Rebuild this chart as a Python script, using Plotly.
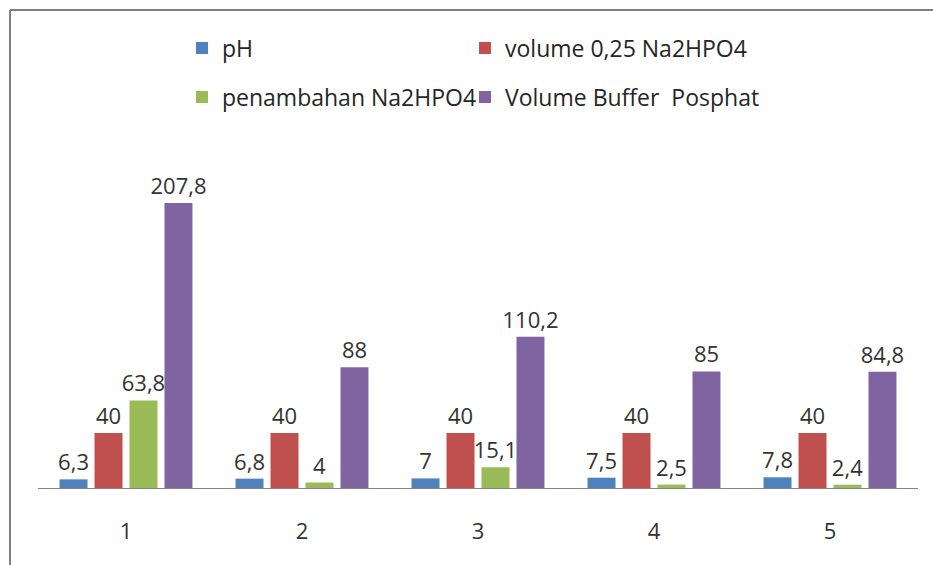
import plotly.graph_objects as go

categories = ["1", "2", "3", "4", "5"]
ph = [6.3, 6.8, 7, 7.5, 7.8]
volume_na2hpo4 = [40, 40, 40, 40, 40]
penambahan = [63.8, 4, 15.1, 2.5, 2.4]
volume_buffer = [207.8, 88, 110.2, 85, 84.8]

series = [
    ("pH", ph, "#4F81BD", "legend"),
    ("volume 0,25 Na2HPO4", volume_na2hpo4, "#C0504D", "legend2"),
    ("penambahan Na2HPO4", penambahan, "#9BBB59", "legend3"),
    ("Volume Buffer  Posphat", volume_buffer, "#8064A2", "legend4"),
]

def fmt(v):
    return f"{v:g}".replace(".", ",")

FONT = "Open Sans"
fig = go.Figure()
for name, vals, color, lg in series:
    fig.add_trace(go.Bar(
        x=categories, y=vals, name=name,
        marker=dict(color=color, line=dict(width=0)),
        text=[fmt(v) for v in vals], textposition="outside",
        textfont=dict(family=FONT, size=22, color="#333333"),
        constraintext="none",
        cliponaxis=False, legend=lg,
    ))

W, H = 933, 565
L, R, T, B = 38, 15, 145, 77
pw = W - L - R
ph_ = H - T - B

legend_common = dict(
    orientation="h", xref="container", yref="container",
    xanchor="left", yanchor="middle",
    font=dict(family=FONT, size=23, color="#262626"),
    bgcolor="rgba(0,0,0,0)",
)

fig.update_layout(
    width=W, height=H,
    margin=dict(l=L, r=R, t=T, b=B),
    paper_bgcolor="white", plot_bgcolor="white",
    barmode="group", bargap=0.205, bargroupgap=0.2,
    showlegend=True,
    legend=dict(x=182 / W, y=1 - 48 / H, **legend_common),
    legend2=dict(x=465 / W, y=1 - 48 / H, **legend_common),
    legend3=dict(x=182 / W, y=1 - 97 / H, **legend_common),
    legend4=dict(x=465 / W, y=1 - 97 / H, **legend_common),
    xaxis=dict(
        type="category", showline=True, linecolor="#868686", linewidth=1,
        showgrid=False, ticks="", ticklabelstandoff=24,
        tickfont=dict(family=FONT, size=22, color="#333333"),
    ),
    yaxis=dict(range=[0, 250], visible=False, showgrid=False, zeroline=False),
    shapes=[
        dict(type="line", xref="paper", yref="paper",
             x0=(10 - L) / pw, x1=(W + 5 - L) / pw,
             y0=(H - B - 10) / ph_, y1=(H - B - 10) / ph_,
             line=dict(color="#7f7f7f", width=2)),
        dict(type="line", xref="paper", yref="paper",
             x0=(10 - L) / pw, x1=(10 - L) / pw,
             y0=(H - B - 10) / ph_, y1=(H - B - H - 5) / ph_,
             line=dict(color="#7f7f7f", width=2)),
    ],
)

fig.write_html(
    "out.html",
    config={"displayModeBar": False},
    post_script="document.body.style.margin='0';document.body.style.overflow='hidden';",
)
